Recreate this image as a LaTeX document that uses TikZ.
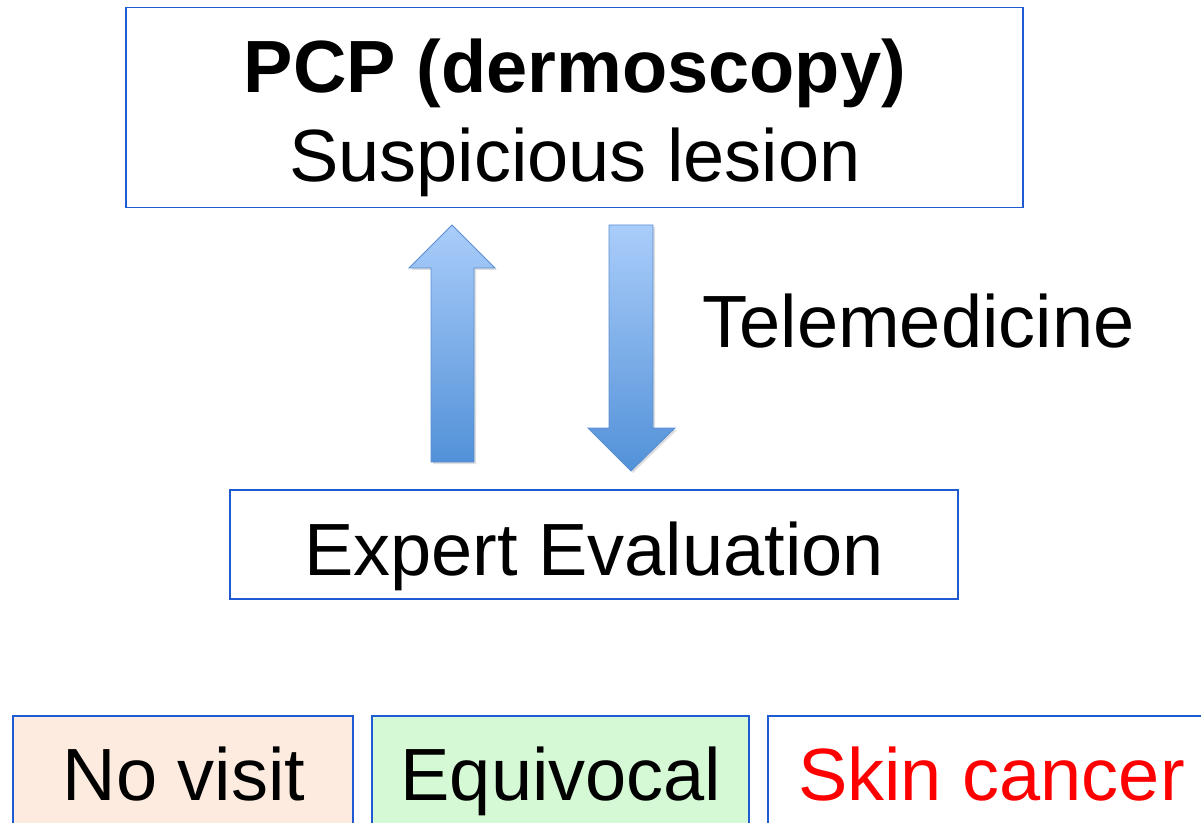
\documentclass[tikz,border=0pt]{standalone}
\usepackage{fontspec}
\setmainfont{Liberation Sans}
\usetikzlibrary{shadows}

\definecolor{boxblue}{RGB}{30,90,210}
\definecolor{arrowtop}{RGB}{170,205,250}
\definecolor{arrowbot}{RGB}{82,145,216}
\definecolor{arrowline}{RGB}{90,142,208}
\definecolor{novisit}{RGB}{253,235,223}
\definecolor{equivocal}{RGB}{213,249,213}

\begin{document}
\begin{tikzpicture}[x=0.75pt, y=-0.75pt,
    box/.style={draw=boxblue, line width=1.25pt, inner sep=0pt},
    txt/.style={anchor=base, inner sep=0pt, font=\fontsize{55.5}{66}\selectfont},
    fatarrow/.style={draw=arrowline, line width=0.6pt, top color=arrowtop, bottom color=arrowbot,
        drop shadow={opacity=0.25, shadow xshift=1.5pt, shadow yshift=-1.5pt}}]
\useasboundingbox (0,0) rectangle (1201,823);
\clip (0,0) rectangle (1201,823);

% PCP box
\node[box, minimum width=672.75pt, minimum height=150pt] (pcp) at (574.5,107.5) {};
\node[txt] (pcptitle) at (575,93) {\bfseries PCP (dermoscopy)};
\node[txt] (pcpsub) at (575,182) {Suspicious lesion};

% expert box
\node[box, minimum width=546pt, minimum height=81.75pt] (expert) at (594,544.5) {};
\node[txt] (experttxt) at (594,575) {Expert Evaluation};

% block arrows
\path[fatarrow] (431,462) -- (431,268) -- (409,268) -- (452,225) -- (495,268)
    -- (474,268) -- (474,462) -- cycle;
\path[fatarrow] (609,225) -- (653,225) -- (653,428) -- (675,428) -- (631,471)
    -- (588,428) -- (609,428) -- cycle;
\node[txt] (tele) at (918.5,347) {Telemedicine};

% outcome boxes
\node[box, fill=novisit, minimum width=255pt, minimum height=97.5pt] (novisitbox) at (183,781) {};
\node[txt] (novisittxt) at (184,800) {No visit};
\node[box, fill=equivocal, minimum width=282.75pt, minimum height=97.5pt] (equivbox) at (560.5,781) {};
\node[txt] (equivtxt) at (561,800) {Equivocal};
\node[box, minimum width=339pt, minimum height=97.5pt] (cancerbox) at (994,781) {};
\node[txt, text=red] (cancertxt) at (991.5,800) {Skin cancer};
\end{tikzpicture}
\end{document}
